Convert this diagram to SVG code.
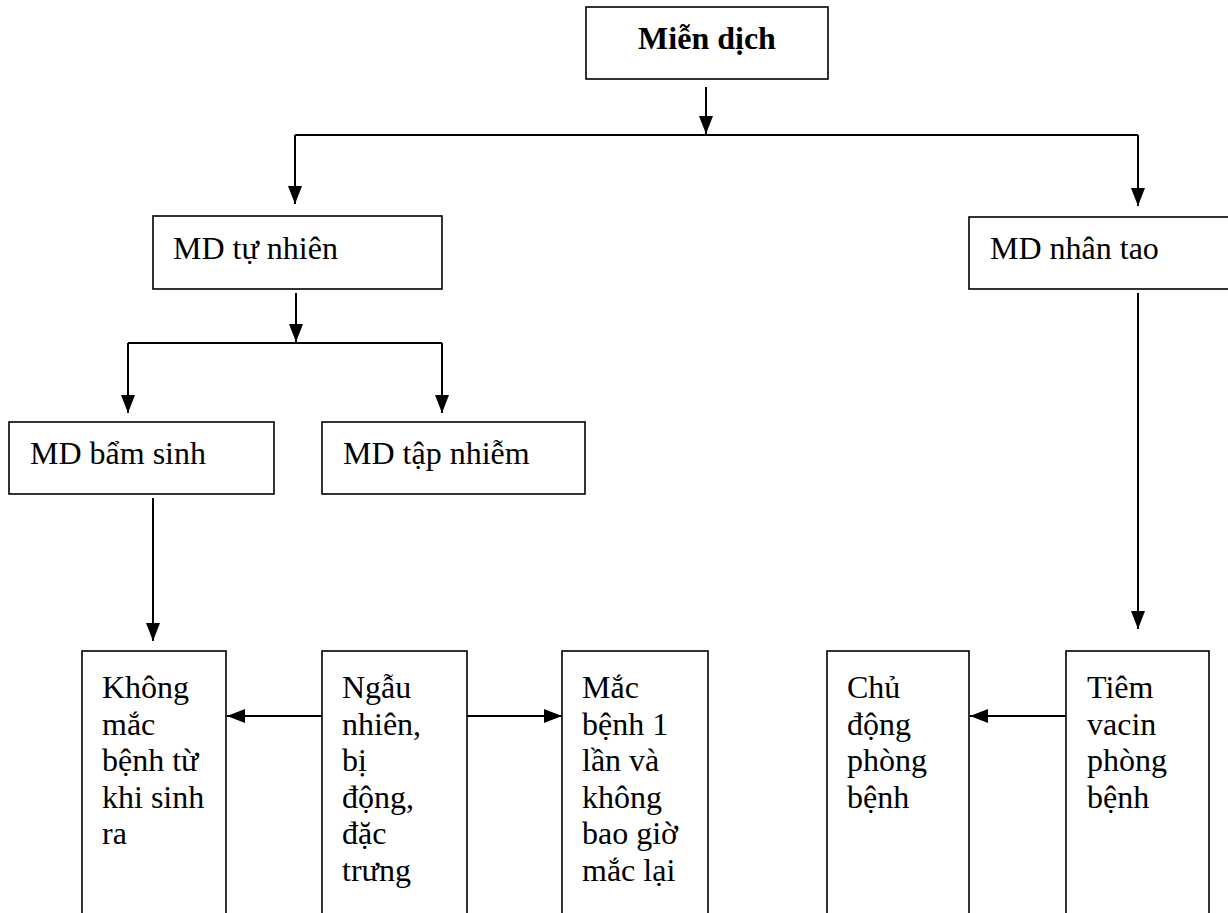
<svg xmlns="http://www.w3.org/2000/svg" width="1228" height="913" viewBox="0 0 1228 913">
  <style>
    .box { fill: #ffffff; stroke: #000000; stroke-width: 1.6; }
    .lbl { font-family: 'Liberation Serif', 'Times New Roman', Tinos, 'DejaVu Serif', serif; font-size: 32px; font-weight: normal; fill: #000000; }
    .title { font-weight: bold; }
    .wire { fill: none; stroke: #000000; stroke-width: 2; }
    .arrow { marker-end: url(#head); }
  </style>
  <defs>
    <marker id="head" viewBox="0 0 18 14" markerWidth="18" markerHeight="14" refX="18" refY="7" markerUnits="userSpaceOnUse" orient="auto">
      <path d="M0 0 L18 7 L0 14 Z" fill="#000000"/>
    </marker>
  </defs>
  <rect width="1228" height="913" fill="#ffffff"/>

  <!-- connectors -->
  <g id="connectors">
    <path class="wire arrow" d="M706 87 V134"/>
    <path class="wire" d="M295 135 H1138"/>
    <path class="wire arrow" d="M295 135 V204"/>
    <path class="wire arrow" d="M1138 135 V206"/>
    <path class="wire arrow" d="M296 293 V342"/>
    <path class="wire" d="M128 343 H442"/>
    <path class="wire arrow" d="M128 343 V413"/>
    <path class="wire arrow" d="M442 343 V413"/>
    <path class="wire arrow" d="M153 498 V641"/>
    <path class="wire arrow" d="M1138 293 V629"/>
    <path class="wire arrow" d="M322 716 H227"/>
    <path class="wire arrow" d="M467 716 H562"/>
    <path class="wire arrow" d="M1066 716 H970"/>
  </g>

  <!-- top level -->
  <g id="mien-dich">
    <rect class="box" x="586" y="7" width="242" height="72"/>
    <text class="lbl title" font-family="Liberation Serif, serif" x="707" y="49" text-anchor="middle">Miễn dịch</text>
  </g>

  <!-- second level -->
  <g id="md-tu-nhien">
    <rect class="box" x="153" y="216" width="289" height="73"/>
    <text class="lbl" font-family="Liberation Serif, serif" x="173" y="259">MD tự nhiên</text>
  </g>
  <g id="md-nhan-tao">
    <rect class="box" x="969" y="217" width="270" height="72"/>
    <text class="lbl" font-family="Liberation Serif, serif" x="990" y="259">MD nhân tao</text>
  </g>

  <!-- third level -->
  <g id="md-bam-sinh">
    <rect class="box" x="9" y="422" width="265" height="72"/>
    <text class="lbl" font-family="Liberation Serif, serif" x="30" y="464">MD bẩm sinh</text>
  </g>
  <g id="md-tap-nhiem">
    <rect class="box" x="322" y="422" width="263" height="72"/>
    <text class="lbl" font-family="Liberation Serif, serif" x="343" y="464">MD tập nhiễm</text>
  </g>

  <!-- bottom row: open-ended boxes -->
  <g id="khong-mac-benh">
    <rect class="box" x="82" y="651" width="144" height="290"/>
    <text class="lbl" font-family="Liberation Serif, serif" x="102" y="698">
      <tspan x="102" y="698">Không</tspan>
      <tspan x="102" y="734.5">mắc</tspan>
      <tspan x="102" y="771">bệnh từ</tspan>
      <tspan x="102" y="807.5">khi sinh</tspan>
      <tspan x="102" y="844">ra</tspan>
    </text>
  </g>
  <g id="ngau-nhien">
    <rect class="box" x="322" y="651" width="145" height="290"/>
    <text class="lbl" font-family="Liberation Serif, serif" x="342" y="698">
      <tspan x="342" y="698">Ngẫu</tspan>
      <tspan x="342" y="734.5">nhiên,</tspan>
      <tspan x="342" y="771">bị</tspan>
      <tspan x="342" y="807.5">động,</tspan>
      <tspan x="342" y="844">đặc</tspan>
      <tspan x="342" y="880.5">trưng</tspan>
    </text>
  </g>
  <g id="mac-benh-1-lan">
    <rect class="box" x="562" y="651" width="146" height="290"/>
    <text class="lbl" font-family="Liberation Serif, serif" x="582" y="698">
      <tspan x="582" y="698">Mắc</tspan>
      <tspan x="582" y="734.5">bệnh 1</tspan>
      <tspan x="582" y="771">lần và</tspan>
      <tspan x="582" y="807.5">không</tspan>
      <tspan x="582" y="844">bao giờ</tspan>
      <tspan x="582" y="880.5">mắc lại</tspan>
    </text>
  </g>
  <g id="chu-dong">
    <rect class="box" x="827" y="651" width="142" height="290"/>
    <text class="lbl" font-family="Liberation Serif, serif" x="847" y="698">
      <tspan x="847" y="698">Chủ</tspan>
      <tspan x="847" y="734.5">động</tspan>
      <tspan x="847" y="771">phòng</tspan>
      <tspan x="847" y="807.5">bệnh</tspan>
    </text>
  </g>
  <g id="tiem-vacin">
    <rect class="box" x="1066" y="651" width="143" height="290"/>
    <text class="lbl" font-family="Liberation Serif, serif" x="1087" y="698">
      <tspan x="1087" y="698">Tiêm</tspan>
      <tspan x="1087" y="734.5">vacin</tspan>
      <tspan x="1087" y="771">phòng</tspan>
      <tspan x="1087" y="807.5">bệnh</tspan>
    </text>
  </g>
</svg>
